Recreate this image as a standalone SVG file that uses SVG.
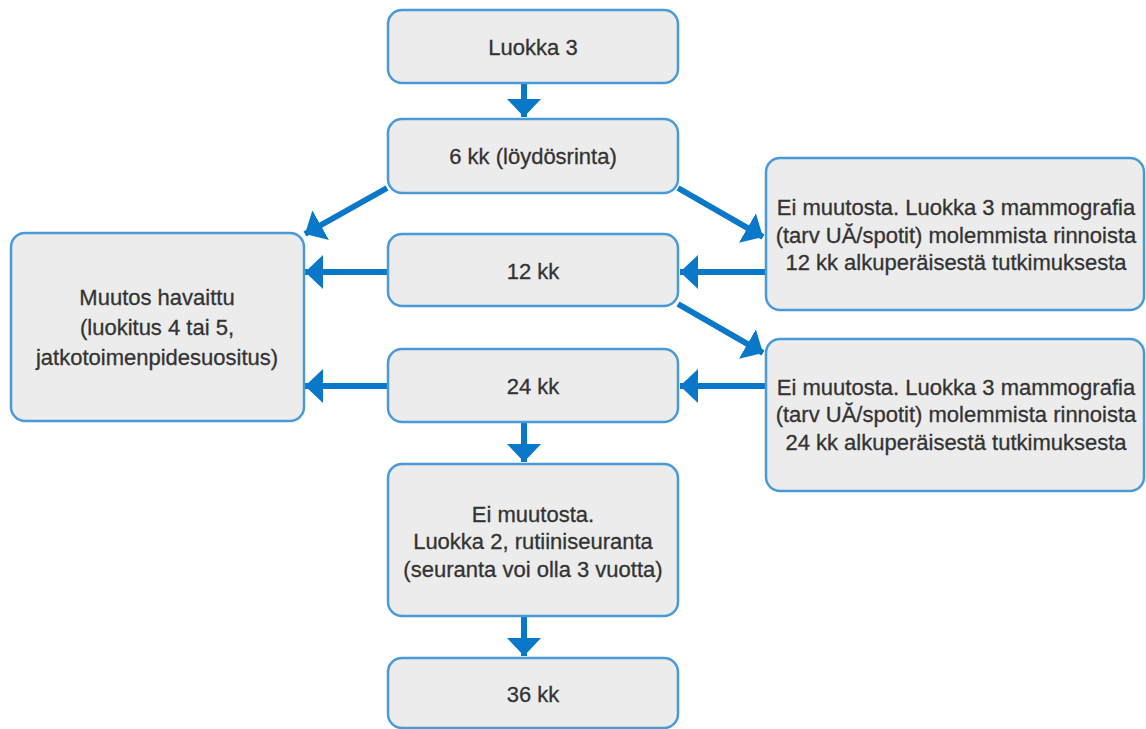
<svg xmlns="http://www.w3.org/2000/svg" width="1146" height="729" viewBox="0 0 1146 729">
<style>
.box{fill:#ececec;stroke:#4a9ad8;stroke-width:2.5}
.t{font-family:"Liberation Sans",Arial,sans-serif;font-size:22px;fill:#333;stroke:#333;stroke-width:0.3;text-anchor:middle}
.c{stroke:#0a78c8;stroke-width:6;fill:none}
</style>
<defs>
<marker id="ah" markerUnits="userSpaceOnUse" markerWidth="20" markerHeight="34" refX="18" refY="17" orient="auto">
<path d="M0,0 L18,17 L0,34 z" fill="#0a78c8"/>
</marker>
</defs>
<rect width="1146" height="729" fill="#fff"/>
<g id="connectors">
<path class="c" d="M524,84 V117" marker-end="url(#ah)"/>
<path class="c" d="M387,188 L305,234" marker-end="url(#ah)"/>
<path class="c" d="M678,188 L763,237" marker-end="url(#ah)"/>
<path class="c" d="M387,272 H305" marker-end="url(#ah)"/>
<path class="c" d="M765,272 H680" marker-end="url(#ah)"/>
<path class="c" d="M678,304 L763,353" marker-end="url(#ah)"/>
<path class="c" d="M387,386 H305" marker-end="url(#ah)"/>
<path class="c" d="M765,386 H680" marker-end="url(#ah)"/>
<path class="c" d="M524,423 V462" marker-end="url(#ah)"/>
<path class="c" d="M524,617 V656" marker-end="url(#ah)"/>
</g>
<g id="n1"><rect class="box" x="388" y="10" width="290" height="73" rx="14"/><text class="t" x="533" y="55">Luokka 3</text></g>
<g id="n2"><rect class="box" x="388" y="119" width="290" height="74" rx="14"/><text class="t" x="533" y="164">6 kk (löydösrinta)</text></g>
<g id="n3"><rect class="box" x="388" y="234" width="290" height="72" rx="14"/><text class="t" x="533" y="279">12 kk</text></g>
<g id="n4"><rect class="box" x="388" y="349" width="290" height="73" rx="14"/><text class="t" x="533" y="394">24 kk</text></g>
<g id="n5"><rect class="box" x="388" y="464" width="290" height="152" rx="14"/>
<text class="t" x="533" y="522">Ei muutosta.</text>
<text class="t" x="533" y="549">Luokka 2, rutiiniseuranta</text>
<text class="t" x="533" y="577">(seuranta voi olla 3 vuotta)</text></g>
<g id="n6"><rect class="box" x="388" y="658" width="290" height="70" rx="14"/><text class="t" x="533" y="702">36 kk</text></g>
<g id="left"><rect class="box" x="11" y="233" width="293" height="188" rx="14"/>
<text class="t" x="157" y="305">Muutos havaittu</text>
<text class="t" x="157" y="335">(luokitus 4 tai 5,</text>
<text class="t" x="157" y="365">jatkotoimenpidesuositus)</text></g>
<g id="r1"><rect class="box" x="766" y="158" width="378" height="152" rx="14"/>
<text class="t" x="956" y="215">Ei muutosta. Luokka 3 mammografia</text>
<text class="t" x="956" y="243">(tarv UĂ/spotit) molemmista rinnoista</text>
<text class="t" x="956" y="270">12 kk alkuperäisestä tutkimuksesta</text></g>
<g id="r2"><rect class="box" x="766" y="339" width="378" height="152" rx="14"/>
<text class="t" x="956" y="395">Ei muutosta. Luokka 3 mammografia</text>
<text class="t" x="956" y="422">(tarv UĂ/spotit) molemmista rinnoista</text>
<text class="t" x="956" y="450">24 kk alkuperäisestä tutkimuksesta</text></g>
</svg>
